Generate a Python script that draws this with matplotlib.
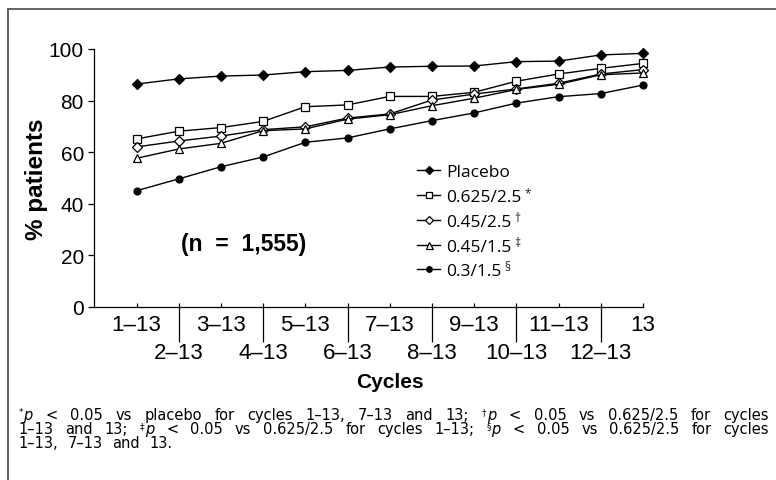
import matplotlib
matplotlib.use('Agg')
import matplotlib.pyplot as plt
from matplotlib.lines import Line2D

W, H = 776, 481
DPI = 100

# ---------------- data ----------------
positions = list(range(1, 14))
row1_labels = ['1–13', '3–13', '5–13', '7–13', '9–13', '11–13', '13']
row2_labels = ['2–13', '4–13', '6–13', '8–13', '10–13', '12–13']

placebo = [86.4, 88.4, 89.5, 89.9, 91.2, 91.7, 93.0, 93.3, 93.4, 95.1, 95.3, 97.7, 98.3]
dose_0625_25 = [65.1, 68.1, 69.5, 71.9, 77.6, 78.3, 81.6, 81.6, 83.2, 87.5, 90.3, 92.5, 94.4]
dose_045_25 = [62.0, 64.3, 66.2, 68.7, 69.8, 73.2, 74.8, 80.2, 82.5, 84.5, 86.7, 90.3, 92.0]
dose_045_15 = [57.6, 61.2, 63.4, 68.3, 69.0, 72.8, 74.5, 78.0, 80.9, 84.3, 86.3, 90.0, 90.7]
dose_03_15 = [45.0, 49.6, 54.3, 58.1, 63.8, 65.5, 69.0, 72.2, 75.2, 79.0, 81.5, 82.7, 86.0]

series_labels = ['Placebo', '0.625/2.5', '0.45/2.5', '0.45/1.5', '0.3/1.5']
series_sups = ['', '*', '†', '‡', '§']
yticks = [0, 20, 40, 60, 80, 100]

footnote_lines = [
    "*p < 0.05 vs placebo for cycles 1–13, 7–13 and 13; †p < 0.05 vs 0.625/2.5 for cycles",
    "1–13 and 13; ‡p < 0.05 vs 0.625/2.5 for cycles 1–13; §p < 0.05 vs 0.625/2.5 for cycles",
    "1–13, 7–13 and 13.",
]

# ---------------- figure ----------------
TICK_FONT = ['Liberation Sans', 'DejaVu Sans']
LEG_FONT = ['Open Sans', 'DejaVu Sans']
FOOT_FONT = ['DejaVu Sans']
plt.rcParams['font.family'] = TICK_FONT

fig = plt.figure(figsize=(W / DPI, H / DPI), dpi=DPI)
fig.patch.set_facecolor('white')

ax_l, ax_r, ax_t, ax_b = 94.3, 643.0, 50.0, 307.7
ax = fig.add_axes([ax_l / W, (H - ax_b) / H, (ax_r - ax_l) / W, (ax_b - ax_t) / H])

styles = [
    dict(marker='D', ms=4.6, mfc='black'),
    dict(marker='s', ms=5.4, mfc='white'),
    dict(marker='D', ms=4.7, mfc='white'),
    dict(marker='^', ms=6.3, mfc='white'),
    dict(marker='o', ms=5.0, mfc='black'),
]
all_series = [placebo, dose_0625_25, dose_045_25, dose_045_15, dose_03_15]
handles = []
for vals, st, lab in zip(all_series, styles, series_labels):
    h, = ax.plot(positions, vals, color='black', lw=1.0, mec='black', mew=0.9,
                 clip_on=False, label=lab, **st)
    handles.append(h)

ax.set_xlim(0, 13)
ax.set_ylim(0, 100)
ax.set_yticks(yticks)
ax.set_yticklabels([str(v) for v in yticks])
ax.set_xticks(positions[0::2])
ax.set_xticklabels(row1_labels)
ax.set_xticks(positions[1::2], minor=True)
ax.set_xticklabels(row2_labels, minor=True)

for s in ['top', 'right']:
    ax.spines[s].set_visible(False)
for s in ['left', 'bottom']:
    ax.spines[s].set_linewidth(0.9)

ax.tick_params(axis='y', direction='out', length=4.5, width=0.9, pad=3, labelsize=15)
ax.tick_params(axis='x', which='major', direction='in', length=3, width=0.9, pad=5.5, labelsize=16)
ax.tick_params(axis='x', which='minor', length=0, pad=25.5, labelsize=16)

# long separator ticks at the even positions
ax_h = ax_b - ax_t
ax.vlines(positions[1::2], -35 / ax_h, 4 / ax_h, transform=ax.get_xaxis_transform(),
          colors='black', lw=0.9, clip_on=False)

fig.text(37 / W, 1 - 179 / H, '% patients', rotation=90, fontsize=17.5,
         fontweight='bold', ha='center', va='center')
fig.text(390 / W, 1 - 383 / H, 'Cycles', fontsize=15, fontweight='bold',
         ha='center', va='center')
fig.text(244 / W, 1 - 245 / H, '(n  =  1,555)', fontsize=16.5, fontweight='bold',
         ha='center', va='center')

leg = ax.legend(handles=handles, labels=series_labels, loc='upper left',
                bbox_to_anchor=(417 / W, 1 - 165 / H), bbox_transform=fig.transFigure,
                frameon=False, borderpad=0, borderaxespad=0, handlelength=1.35,
                handletextpad=0.35, labelspacing=0.5, markerscale=0.8,
                prop={'family': LEG_FONT, 'size': 12.5})

# outer frame (left + top)
fig.add_artist(Line2D([7.5 / W, 7.5 / W], [0, 1 - 10 / H], transform=fig.transFigure,
                      color='#555555', lw=1.3))
fig.add_artist(Line2D([7.5 / W, 1], [1 - 10 / H, 1 - 10 / H], transform=fig.transFigure,
                      color='#555555', lw=1.3))

fig.canvas.draw()
r = fig.canvas.get_renderer()

# legend superscripts
for txt, sup in zip(leg.get_texts(), series_sups):
    if not sup:
        continue
    bb = txt.get_window_extent(r)
    fig.text((bb.x1 + 2.5) / W, (bb.y1 + 3) / H, sup, fontsize=8.5,
             family=LEG_FONT, ha='left', va='top', color='#222222')

# footnote (justified)
FOOT = dict(family=FOOT_FONT, fontsize=10.5)
SUPP = dict(family=FOOT_FONT, fontsize=6.5)


def tokenise(line):
    toks = []
    for w in line.split(' '):
        if w and w[0] in '*†‡§' and len(w) > 1 and w[1] == 'p':
            tok = [(w[0], 's'), ('p', 'i')]
            if w[2:]:
                tok.append((w[2:], 'n'))
            toks.append(tok)
        else:
            toks.append([(w, 'n')])
    return toks


def seg_props(kind):
    if kind == 's':
        return dict(SUPP)
    if kind == 'i':
        d = dict(FOOT)
        d['fontstyle'] = 'italic'
        return d
    return dict(FOOT)


def width(s, props):
    t = fig.text(0, 0, s, **props)
    w = t.get_window_extent(r).width
    t.remove()
    return w


x0, x1 = 18.5, 768.0
baselines = [420.0, 434.0, 448.0]
for li, (line, yb) in enumerate(zip(footnote_lines, baselines)):
    toks = tokenise(line)
    tw = [[width(s, seg_props(k)) for s, k in tok] for tok in toks]
    total = sum(sum(t) for t in tw)
    if li < len(footnote_lines) - 1:
        gap = (x1 - x0 - total) / (len(toks) - 1)
    else:
        gap = 9.5
    x = x0
    for tok, ws in zip(toks, tw):
        for (s, k), w in zip(tok, ws):
            dy = 4.5 if k == 's' else 0.0
            fig.text(x / W, (H - yb + dy) / H, s, ha='left', va='baseline', **seg_props(k))
            x += w + (0.5 if k == 's' else 0.0)
        x += gap

fig.savefig('out.png', dpi=DPI)
